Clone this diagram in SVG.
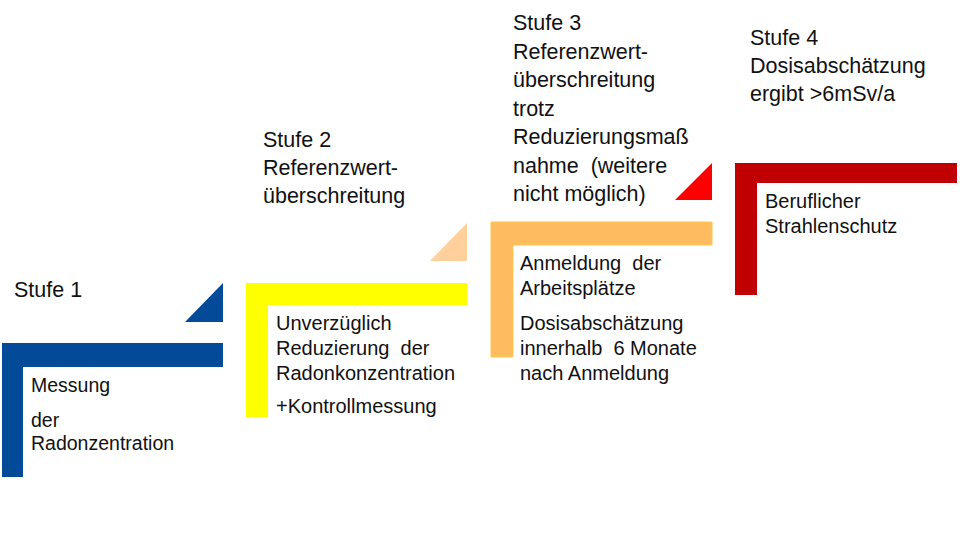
<svg xmlns="http://www.w3.org/2000/svg" width="960" height="540" viewBox="0 0 960 540">
<style>
text{font-family:"Liberation Sans",Arial,sans-serif;fill:#111;white-space:pre;}
.h{font-size:21.5px;}
.b{font-size:20px;}
.bs{font-size:19.5px;}
</style>
<rect width="960" height="540" fill="#fff"/>
<g id="connectors">
<polygon points="185,322 223,322 223,283" fill="#034B98"/>
<polygon points="430,261 467,261 467,223" fill="#FFD09B"/>
<polygon points="675,200 712,200 712,163" fill="#FF0000"/>
</g>
<g id="step1">
<path d="M2,343H223V367H23V477H2Z" fill="#034B98"/>
<text class="h" x="14" y="297">Stufe 1</text>
<text class="bs" x="31" y="392">Messung</text>
<text class="bs" x="31" y="427">der</text>
<text class="bs" x="31" y="450">Radonzentration</text>
</g>
<g id="step2">
<path d="M246,283H467V305H268V417H246Z" fill="#FFFF00"/>
<text class="h" x="263" y="147">Stufe 2</text>
<text class="h" x="263" y="175">Referenzwert-</text>
<text class="h" x="263" y="203">überschreitung</text>
<text class="b" x="276" y="330">Unverzüglich</text>
<text class="b" x="276" y="355" xml:space="preserve">Reduzierung  der</text>
<text class="b" x="276" y="380">Radonkonzentration</text>
<text class="b" x="276" y="413">+Kontrollmessung</text>
</g>
<g id="step3">
<path d="M491,222H712V245H513V357H491Z" fill="#FFBB5F" stroke="#FFC94A" stroke-width="1"/>
<text class="h" x="513" y="30">Stufe 3</text>
<text class="h" x="513" y="58.5">Referenzwert-</text>
<text class="h" x="513" y="87">überschreitung</text>
<text class="h" x="513" y="115.5">trotz</text>
<text class="h" x="513" y="144">Reduzierungsmaß</text>
<text class="h" x="513" y="172.5" xml:space="preserve">nahme  (weitere</text>
<text class="h" x="513" y="201">nicht möglich)</text>
<text class="b" x="520" y="270" xml:space="preserve">Anmeldung  der</text>
<text class="b" x="520" y="295">Arbeitsplätze</text>
<text class="b" x="520" y="330">Dosisabschätzung</text>
<text class="b" x="520" y="355" xml:space="preserve">innerhalb  6 Monate</text>
<text class="b" x="520" y="380">nach Anmeldung</text>
</g>
<g id="step4">
<path d="M735,163H957V183H757V295H735Z" fill="#C00000"/>
<text class="h" x="750" y="45">Stufe 4</text>
<text class="h" x="750" y="73">Dosisabschätzung</text>
<text class="h" x="750" y="101">ergibt &gt;6mSv/a</text>
<text class="b" x="765" y="208">Beruflicher</text>
<text class="b" x="765" y="233">Strahlenschutz</text>
</g>
</svg>
